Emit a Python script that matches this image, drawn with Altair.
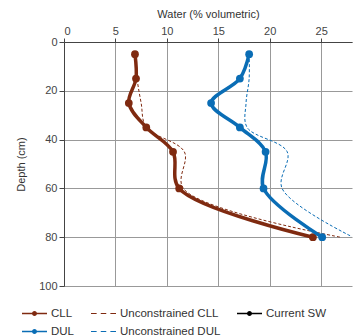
import altair as alt
import pandas as pd

depth = [5, 15, 25, 35, 45, 60, 80]
cll = [6.9, 7.0, 6.3, 8.0, 10.6, 11.2, 24.2]
dul = [18.0, 17.1, 14.3, 17.1, 19.6, 19.4, 25.1]
unc_cll = [6.9, 7.1, 7.5, 8.0, 11.7, 11.6, 26.9]
unc_dul = [18.0, 18.0, 17.7, 17.8, 21.7, 21.2, 28.1]

series_names = ["CLL", "Unconstrained CLL", "Current SW", "DUL", "Unconstrained DUL"]
series_colors = ["#7F2A10", "#7F2A10", "#000000", "#0A6DB5", "#0A6DB5"]

BROWN = "#7F2A10"
BLUE = "#0A6DB5"
FONT = "Liberation Sans"

solid_path = ("M-1,-0.06H1V0.06H-1Z "
              "M-0.2,0A0.2,0.2 0 1,1 0.2,0A0.2,0.2 0 1,1 -0.2,0Z")
dash_path = ("M-1,-0.04H-0.55V0.04H-1Z M-0.22,-0.04H0.22V0.04H-0.22Z "
             "M0.55,-0.04H1V0.04H0.55Z")
series_shapes = [solid_path, dash_path, solid_path, solid_path, dash_path]

df = pd.DataFrame({"depth": depth, "cll": cll, "dul": dul,
                   "unc_cll": unc_cll, "unc_dul": unc_dul})
legend_df = pd.DataFrame({"series": series_names,
                          "x": [None] * 5, "y": [None] * 5})

x_scale = alt.Scale(domain=[0, 28], nice=False)
y_scale = alt.Scale(domain=[0, 100], reverse=True, nice=False)

x_axis = alt.Axis(orient="top", title="Water (% volumetric)", values=[0, 5, 10, 15, 20, 25],
                  grid=True, gridColor="#999999", domainColor="#444444",
                  tickColor="#444444", tickSize=4, labelPadding=2,
                  labelFont=FONT, labelFontSize=11, labelColor="#444444",
                  titleFont=FONT, titleFontSize=11, titleFontWeight="normal",
                  titleColor="#333333", titlePadding=6)
y_axis = alt.Axis(title="Depth (cm)", values=[0, 20, 40, 60, 80, 100],
                  grid=True, gridColor="#999999", domainColor="#444444",
                  tickColor="#444444", tickSize=5, labelPadding=2,
                  labelFont=FONT, labelFontSize=11, labelColor="#444444",
                  titleFont=FONT, titleFontSize=11, titleFontWeight="normal",
                  titleColor="#333333", titlePadding=12)

base = alt.Chart(df)


def line(field, color, width, dash=None):
    kw = dict(color=color, strokeWidth=width, interpolate="catmull-rom", clip=True)
    if dash:
        kw["strokeDash"] = dash
    return base.mark_line(**kw).encode(
        x=alt.X(f"{field}:Q", scale=x_scale, axis=x_axis),
        y=alt.Y("depth:Q", scale=y_scale, axis=y_axis),
        order=alt.Order("depth:Q"),
    )


def pts(field, color):
    return base.mark_circle(color=color, size=60, opacity=1).encode(
        x=alt.X(f"{field}:Q", scale=x_scale, axis=x_axis),
        y=alt.Y("depth:Q", scale=y_scale, axis=y_axis),
    )


legend_kw = dict(orient="none", legendX=-42, legendY=259, columns=3, title=None,
                 direction="horizontal",
                 labelFont=FONT, labelFontSize=11.5, labelColor="#333333",
                 columnPadding=16, rowPadding=-12, labelOffset=4, padding=0,
                 symbolStrokeWidth=0, symbolSize=625)

legend_layer = alt.Chart(legend_df).mark_point(filled=True, size=625, opacity=1, strokeWidth=0).encode(
    x=alt.X("x:Q", scale=x_scale, axis=x_axis),
    y=alt.Y("y:Q", scale=y_scale, axis=y_axis),
    color=alt.Color("series:N", scale=alt.Scale(domain=series_names, range=series_colors),
                    legend=alt.Legend(**legend_kw)),
    shape=alt.Shape("series:N", scale=alt.Scale(domain=series_names, range=series_shapes),
                    legend=alt.Legend(**legend_kw)),
)

chart = alt.layer(
    line("unc_cll", BROWN, 1, [3, 2]),
    line("unc_dul", BLUE, 1, [3, 2]),
    line("cll", BROWN, 3.5),
    pts("cll", BROWN),
    line("dul", BLUE, 3.5),
    pts("dul", BLUE),
    legend_layer,
).properties(
    width=288, height=244,
    autosize=alt.AutoSizeParams(type="none"),
    padding={"left": 64, "top": 42, "right": 2, "bottom": 49},
).configure_view(stroke=None)

chart.save("out.html", embed_options={"renderer": "svg", "actions": False})
